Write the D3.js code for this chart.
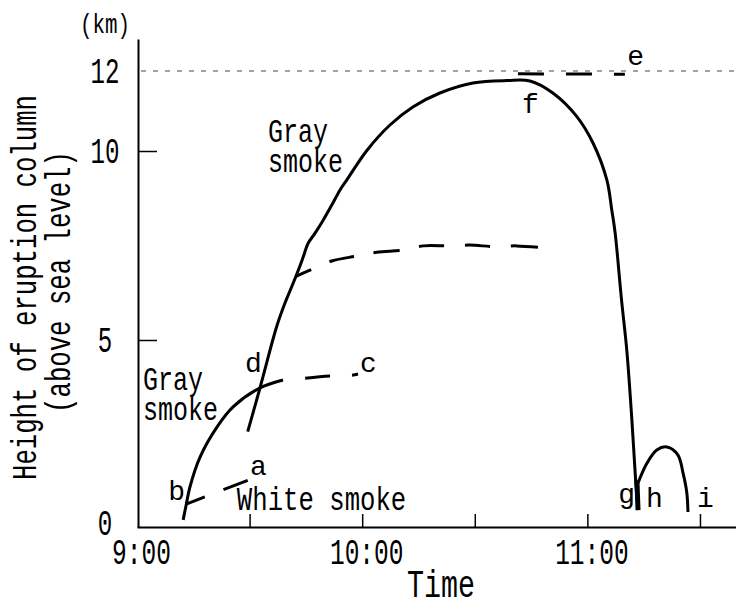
<!DOCTYPE html>
<html><head><meta charset="utf-8">
<script src="https://cdn.jsdelivr.net/npm/d3@7"></script>
<style>html,body{margin:0;padding:0;background:#fff}svg{display:block}</style>
</head><body>
<svg id="c" width="736" height="603"></svg>
<script>
// ---- data (minutes after 9:00, height km) ----
const timeTicks = [30, 60, 90, 120, 150];
const timeLabels = [[0, "9:00"], [60, "10:00"], [120, "11:00"]];
const heightTicks = [5, 10];
const heightLabels = [[0, "0"], [5, "5"], [10, "10"], [12, "12"]];
const tropopause = 12;

// gray smoke (main column, solid)
const grayMain = [[29.5,2.55],[32.8,3.73],[37.2,5.35],[39.4,5.97],[41.6,6.50],[43.0,6.85],[44.3,7.20],[45.6,7.56],[47.4,7.82],[49.6,8.17],[51.9,8.57],[54.1,8.97],[56.0,9.25],[61.3,10.02],[67.4,10.65],[73.5,11.10],[80.7,11.45],[89.5,11.70],[98.6,11.76],[104.7,11.75],[110.8,11.45],[117.2,10.86],[121.5,10.20],[125.2,9.23],[126.5,8.44],[127.4,7.83],[129.1,6.06],[130.5,4.73],[131.8,2.95],[132.9,1.18],[133.5,0.45]];
// early gray smoke (solid) and its dashed continuation to c
const grayEarly = [[12.3,0.19],[13.1,0.59],[14.1,1.07],[16.8,1.87],[21.3,2.67],[25.6,3.21],[32.8,3.72],[38.9,3.93]];
const grayEarlyC = [[44.8,3.98],[51.4,4.04],[57.3,4.06],[58.9,4.09]];
// white smoke (dashed, b to a)
const whiteSmoke = [[13.1,0.61],[29.8,1.26]];
// plateau branch of main column (dashed)
const grayPlateau = [[42.5,6.69],[46.6,6.87],[51.9,7.09],[58.5,7.22],[63.9,7.32],[71.0,7.38],[76.3,7.49],[82.9,7.49],[88.7,7.51],[95.4,7.47],[101.2,7.49],[108.3,7.44]];
// top of column f to e (dashed)
const topE = [[101.5,11.93],[130.0,11.92]];
// later pulse g-h-i
const pulseH = [[133.5,1.18],[135.9,1.71],[138.5,2.06],[141.2,2.14],[144.1,1.93],[145.5,1.44],[146.5,0.91],[146.8,0.40]];

// annotations: [text, minute, km]
const letterNotes = [["a",30.1,1.39],["b",8.3,0.72],["c",59.4,4.14],["d",28.8,4.14],["e",130.6,12.15],["f",102.6,10.95],["g",128.2,0.64],["h",135.6,0.53],["i",149.2,0.53]];
const smokeNotes = [["Gray",34.9,10.225],["smoke",34.9,9.44],["Gray",1.6,3.66],["smoke",1.6,2.86],["White smoke",26.6,0.45]];

// ---- scales ----
const x = d3.scaleLinear().domain([0, 160]).range([137, 737.5]);
const y = d3.scaleLinear().domain([0, 5, 10, 12, 12.8]).range([527, 340, 151, 71, 39]);

const svg = d3.select("#c");
const FONT = "'Liberation Mono', 'DejaVu Sans Mono', monospace";

function txt(px, py, s, size, perChar, anchor, weight) {
  const t = svg.append("text").attr("x", px).attr("y", py).text(s)
    .attr("font-family", FONT).attr("font-size", size).attr("fill", "#000")
    .attr("text-anchor", anchor || "start");
  if (weight) t.attr("font-weight", weight);
  if (perChar) t.attr("textLength", perChar * s.length).attr("lengthAdjust", "spacingAndGlyphs");
  return t;
}

// tropopause reference line
svg.append("line").attr("x1", 141).attr("x2", 736).attr("y1", y(tropopause)).attr("y2", y(tropopause))
  .attr("stroke", "#444").attr("stroke-width", 1).attr("stroke-dasharray", "5 7");

// axes
const xAxis = d3.axisBottom(x).tickValues(timeTicks).tickSizeInner(-13).tickSizeOuter(0).tickFormat("");
const gx = svg.append("g").attr("transform", `translate(0,${y(0)})`).call(xAxis);
gx.select(".domain").attr("stroke-width", 2);
gx.selectAll(".tick line").attr("stroke-width", 1.5);

const yAxis = d3.axisLeft(y).tickValues(heightTicks).tickSizeInner(-19).tickSizeOuter(0).tickFormat("");
const gy = svg.append("g").attr("transform", `translate(${x(0) + 1},0)`).call(yAxis);
gy.select(".domain").attr("stroke-width", 2);
gy.selectAll(".tick line").attr("stroke-width", 1.5);

// tick labels
timeLabels.forEach(([m, s]) => txt(x(m) + 4.5, 564, s, 36, 14.7, "middle"));
heightLabels.forEach(([v, s]) => txt(105, Math.min(y(v) + 11.5, 535), s, 36, 14.5, "middle"));
txt(80, 33, "(km)", 28, 12.5, "start");

// axis titles
txt(441, 597, "Time", 38, 17, "middle");
txt(0, 0, "Height of eruption column", 35, 15.4, "middle").attr("transform", "translate(36,287.5) rotate(-90)");
txt(0, 0, "(above sea level)", 35, 15.4, "middle").attr("transform", "translate(70,282) rotate(-90)");

// curves
const line = d3.line().x(d => x(d[0])).y(d => y(d[1])).curve(d3.curveCatmullRom.alpha(0.5));
function draw(data, dash, offset) {
  const p = svg.append("path").attr("d", line(data)).attr("fill", "none")
    .attr("stroke", "#000").attr("stroke-width", 3).attr("stroke-linecap", "butt");
  if (dash) p.attr("stroke-dasharray", dash);
  if (offset) p.attr("stroke-dashoffset", offset);
  return p;
}
draw(grayMain);
draw(grayEarly);
draw(grayEarlyC, "25 22");
draw(whiteSmoke, "20 20 26");
draw(grayPlateau, "16 20 25 20 26 20 25 21 25 21 27 40");
draw(topE, "26 22");
draw(pulseH);
// overlap thickening at g
svg.append("line").attr("x1", x(133.2)).attr("x2", x(133.5)).attr("y1", y(1.25)).attr("y2", y(0.45))
  .attr("stroke", "#000").attr("stroke-width", 5);

// annotations
smokeNotes.forEach(([s, m, v]) => txt(x(m), y(v), s, 33, s.length > 6 ? 15.4 : 15, "start"));
letterNotes.forEach(([s, m, v]) => txt(x(m), y(v), s, 28, null, "start"));
</script>
</body></html>
